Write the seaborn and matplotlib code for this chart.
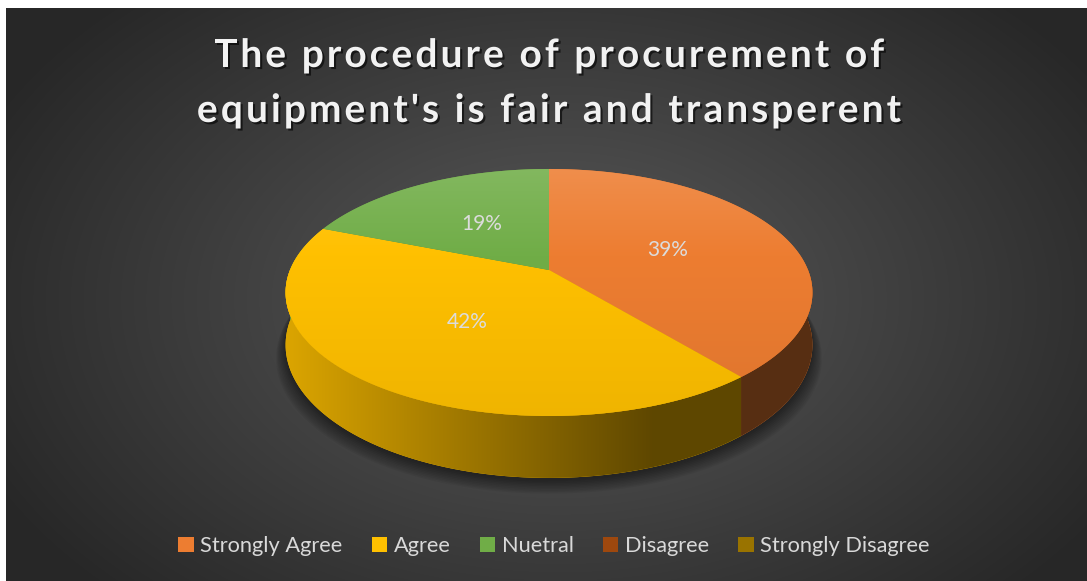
import numpy as np
import matplotlib
matplotlib.use("Agg")
import matplotlib.pyplot as plt
import matplotlib.patheffects as pe
from matplotlib.patches import Polygon, Patch
from matplotlib.colors import to_rgb
import seaborn as sns

# data
categories = ['Strongly Agree', 'Agree', 'Nuetral', 'Disagree', 'Strongly Disagree']
shares = [39, 42, 19, 0, 0]
colors = ['#ED7D31', '#FFC000', '#70AD47', '#9E480E', '#997300']
title_lines = ["The procedure of procurement of", "equipment's is fair and transperent"]

sns.set_theme(style='white')
plt.rcParams['font.family'] = ['Lato', 'DejaVu Sans']

W, H = 1087, 581
fig = plt.figure(figsize=(W / 100, H / 100), dpi=100, facecolor='white')

# dark radial background (screenshot has a thin white strip left/top)
bg = fig.add_axes([6 / W, 0, 1 - 6 / W, 1 - 8 / H])
yy, xx = np.mgrid[8:H, 6:W]
t = np.sqrt(((xx - 560) / 640.0) ** 2 + ((yy - 300) / 420.0) ** 2)
g = (0x5a - (0x5a - 0x27) * np.clip(t, 0, 1)) / 255.0
bg.imshow(np.dstack([g, g, g]), aspect='auto', interpolation='bilinear')
bg.axis('off')

ax = fig.add_axes([0, 0, 1, 1])
ax.axis('off')
ax.patch.set_alpha(0)

# pseudo-3D projection of the unit disc (slight perspective like Excel)
cx, cy = 549, 270
A, B, k = 259.0, 119.4, 0.182
depth = 50.7


def proj(u, v, drop=0.0):
    w = 1 + k * v
    return cx + A * u / w, cy - B * v / w + drop / w


z = [2]


def shaded(poly, fn, box):
    z[0] += 1
    poly.set_zorder(z[0])
    ax.add_patch(poly)
    x0, x1, y0, y1 = box
    X, Y = np.meshgrid(np.linspace(x0, x1, 300), np.linspace(y0, y1, 300))
    im = ax.imshow(fn(X, Y), extent=(x0, x1, y1, y0), origin='upper',
                   aspect='auto', interpolation='bilinear', zorder=z[0] + 0.5)
    im.set_clip_path(poly)
    z[0] += 1


# soft shadow under the pie
th = np.radians(np.linspace(0, 360, 240))
for s in range(10):
    sx, sy = proj(np.cos(th) * (1 + s * 0.004), np.sin(th), depth + 2 + s * 1.2)
    ax.add_patch(Polygon(np.c_[sx, sy], closed=True, fc='black', ec='none',
                         alpha=0.05, zorder=1))

total = sum(shares)
ends = 90 - 360 * np.cumsum(shares) / total
starts = np.r_[90, ends[:-1]]

# side walls (only the front half is visible)
for a0, a1, share, col in zip(starts, ends, shares, colors):
    if share == 0:
        continue
    lo, hi = max(a1, -180), min(a0, 0)
    if lo >= hi:
        if a1 < -180:
            lo, hi = max(a1 + 360, 180), min(a0 + 360, 360)
        else:
            continue
    ang = np.radians(np.linspace(hi, lo, 80))
    tx, ty = proj(np.cos(ang), np.sin(ang))
    bx, by = proj(np.cos(ang), np.sin(ang), depth)
    side = Polygon(np.r_[np.c_[tx, ty], np.c_[bx, by][::-1]], closed=True,
                   fc=col, ec='none')
    base = np.array(to_rgb(col))

    def side_fn(X, Y, base=base):
        tt = (X - 285) / 527.0
        f = np.clip(0.86 - 0.70 * tt, 0.37, 1)[..., None]
        return np.clip(base * f, 0, 1)

    shaded(side, side_fn, (280, 818, 260, 485))

# top face
for a0, a1, share, col in zip(starts, ends, shares, colors):
    if share == 0:
        continue
    ang = np.radians(np.linspace(a0, a1, 160))
    px, py = proj(np.cos(ang), np.sin(ang))
    top = Polygon(np.r_[[[cx, cy]], np.c_[px, py]], closed=True, fc=col, ec='none')
    base = np.array(to_rgb(col))

    def top_fn(X, Y, base=base):
        tt = np.clip((Y - 169) / 247.0, 0, 1)[..., None]
        light = base + (1 - base) * 0.13
        dark = base * 0.94
        up = np.clip(tt / 0.35, 0, 1)
        lowr = np.clip((tt - 0.35) / 0.65, 0, 1)
        c = light * (1 - up) + base * up
        c = c * (1 - lowr) + dark * lowr
        return np.clip(c, 0, 1)

    shaded(top, top_fn, (280, 818, 165, 420))

    mid = np.radians((a0 + a1) / 2)
    lx, ly = proj(0.5 * np.cos(mid), 0.5 * np.sin(mid))
    ax.text(lx, ly, f'{share}%', color='#DCDCDC', fontsize=15,
            ha='center', va='center', zorder=50)

ax.set_xlim(0, W)
ax.set_ylim(H, 0)

# title with wider letter spacing, placed glyph by glyph
renderer = fig.canvas.get_renderer()
tsize = 28
track = 3.05
shadow = [pe.withSimplePatchShadow(offset=(1.5, -1.5), shadow_rgbFace='black', alpha=0.6)]


def text_w(s):
    tmp = fig.text(0, 0, s + '|', fontsize=tsize, fontweight='bold')
    w = tmp.get_window_extent(renderer).width
    tmp.remove()
    return w


bar_w = text_w('')
for line, base_y in zip(title_lines, [67, 122]):
    full = text_w(line) - bar_w + track * (len(line) - 1)
    x0 = 549 - full / 2
    for i, ch in enumerate(line):
        if ch == ' ':
            continue
        xpos = x0 + text_w(line[:i]) - bar_w + track * i
        fig.text(xpos / W, 1 - base_y / H, ch, ha='left', va='baseline',
                 color='#F2F2F2', fontsize=tsize, fontweight='bold', path_effects=shadow)

handles = [Patch(fc=c, ec='none') for c in colors]
leg = fig.legend(handles, categories, loc='center', bbox_to_anchor=(554 / W, 1 - 546 / H),
                 ncol=5, frameon=False, fontsize=15.7, handlelength=0.7, handleheight=0.7,
                 handletextpad=0.3, columnspacing=1.35)
for txt in leg.get_texts():
    txt.set_color('#D9D9D9')

fig.savefig('out.png', dpi=100, facecolor='white')
